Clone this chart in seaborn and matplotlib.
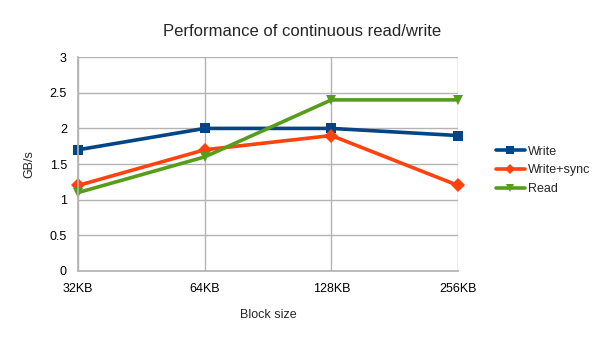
import matplotlib
matplotlib.use("Agg")
import matplotlib.pyplot as plt
import seaborn as sns
import pandas as pd

block_sizes = ["32KB", "64KB", "128KB", "256KB"]
write = [1.7, 2.0, 2.0, 1.9]
write_sync = [1.2, 1.7, 1.9, 1.2]
read = [1.1, 1.6, 2.4, 2.4]
series_names = ["Write", "Write+sync", "Read"]
y_ticks = [0, 0.5, 1, 1.5, 2, 2.5, 3]
y_tick_labels = ["0", "0.5", "1", "1.5", "2", "2.5", "3"]

sns.set_theme(style="white")
plt.rcParams["font.family"] = ["Liberation Sans", "DejaVu Sans"]

rows = []
for name, vals in zip(series_names, [write, write_sync, read]):
    for i, (b, v) in enumerate(zip(block_sizes, vals)):
        rows.append({"pos": i, "block": b, "GB/s": v, "series": name})
df = pd.DataFrame(rows)

palette = {"Write": "#004586", "Write+sync": "#ff420e", "Read": "#579d1c"}
markers = {"Write": "s", "Write+sync": "D", "Read": "v"}

fig = plt.figure(figsize=(6.05, 3.40), dpi=100)
ax = fig.add_axes([0.129, 0.203, 0.628, 0.629])

sns.lineplot(data=df, x="pos", y="GB/s", hue="series", style="series",
             palette=palette, markers=markers, dashes=False,
             linewidth=2.6, markersize=7.5, markeredgewidth=0, ax=ax,
             clip_on=False)

ax.set_xlim(0, len(block_sizes) - 1)
ax.set_ylim(0, 3)
ax.set_xticks(range(len(block_sizes)))
ax.set_xticklabels(block_sizes)
ax.set_yticks(y_ticks)
ax.set_yticklabels(y_tick_labels)
ax.grid(True, color="#b3b3b3", linewidth=1)
ax.set_axisbelow(True)
for s in ax.spines.values():
    s.set_visible(False)
ax.spines["bottom"].set_visible(True)
ax.spines["bottom"].set_color("#b3b3b3")
ax.spines["left"].set_visible(True)
ax.spines["left"].set_color("#b3b3b3")
ax.tick_params(axis="x", length=4, width=1, color="#b3b3b3", labelsize=9, pad=5)
ax.tick_params(axis="y", length=4, width=1, color="#b3b3b3", labelsize=9, pad=4)
for lab in ax.get_xticklabels() + ax.get_yticklabels():
    lab.set_color("black")

ax.set_xlabel("Block size", fontsize=9, labelpad=10)
ax.set_ylabel("GB/s", fontsize=9, labelpad=10)
fig.suptitle("Performance of continuous read/write", fontsize=12, y=0.93)

handles, labels = ax.get_legend_handles_labels()
ax.legend(handles, labels, loc="center left", bbox_to_anchor=(1.07, 0.47),
          frameon=False, fontsize=9, handlelength=2.3, handletextpad=0.3,
          labelspacing=0.55, markerscale=0.7)

fig.savefig("out.png", dpi=100)
